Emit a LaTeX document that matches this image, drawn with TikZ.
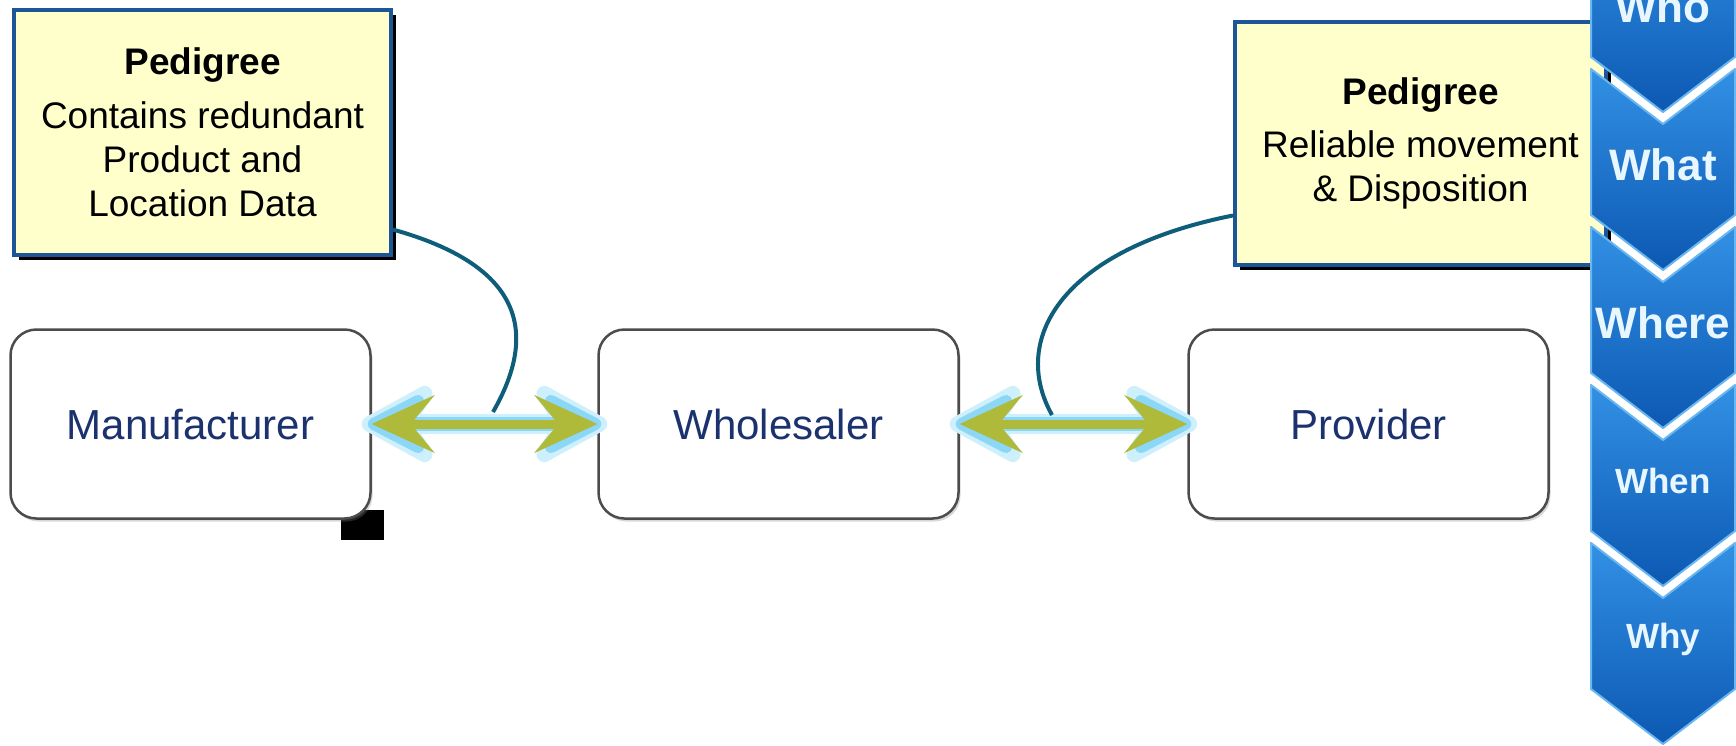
\documentclass[tikz,border=0pt]{standalone}
\usepackage{fontspec}
\setmainfont{Liberation Sans}
\usetikzlibrary{arrows.meta}
\usetikzlibrary{shadows}
\usetikzlibrary{positioning}
\definecolor{notefill}{RGB}{255,255,204}
\definecolor{noteline}{RGB}{28,86,150}
\definecolor{boxtext}{RGB}{27,50,110}
\definecolor{linkteal}{RGB}{14,94,122}
\definecolor{arrowgreen}{RGB}{176,186,58}
\definecolor{glowout}{RGB}{206,240,252}
\definecolor{glowin}{RGB}{140,215,246}
\definecolor{chevtop}{RGB}{50,145,228}
\definecolor{chevbot}{RGB}{12,88,178}
\definecolor{chevedge}{RGB}{105,182,240}
\definecolor{chevtext}{RGB}{232,246,255}

\begin{document}
\begin{tikzpicture}[x=1pt,y=-1pt,
    proc node/.style={draw=black!70,line width=2.5pt,fill=white,rounded corners=26pt,minimum width=360pt,minimum height=189pt,font=\fontsize{42}{50}\selectfont,text=boxtext,drop shadow={shadow xshift=2pt,shadow yshift=-3pt,opacity=.3}},
    note node/.style={draw=noteline,line width=4pt,fill=notefill,align=center,font=\fontsize{37}{44}\selectfont,drop shadow={shadow xshift=5pt,shadow yshift=-5pt,fill=black,opacity=1}},
    glow big/.style={draw=glowout,line width=20pt,shorten <=-10pt,shorten >=-10pt,{Stealth[length=92pt,width=100pt,inset=30pt,round,fill=glowout]}-{Stealth[length=92pt,width=100pt,inset=30pt,round,fill=glowout]}},
    glow small/.style={draw=glowin,line width=14pt,shorten <=-4pt,shorten >=-4pt,{Stealth[length=76pt,width=78pt,inset=27pt,round,fill=glowin]}-{Stealth[length=76pt,width=78pt,inset=27pt,round,fill=glowin]}},
    dbl arrow/.style={draw=arrowgreen,line width=9pt,{Stealth[length=63pt,width=58pt,inset=24pt,line width=0.5pt,fill=arrowgreen]}-{Stealth[length=63pt,width=58pt,inset=24pt,line width=0.5pt,fill=arrowgreen]}},
    link/.style={draw=linkteal,line width=4pt},
    chev/.style={top color=chevtop,bottom color=chevbot,draw=chevedge,line width=2pt,line join=round},
    chev label/.style={text=chevtext,inner sep=0pt}]

   \fill[white] (0,0) rectangle (1736,745);
   \useasboundingbox (0,0) rectangle (1736,745);

   % stray black patch under the first box
   \fill[black] (341,510) rectangle (384,540);

   \node[proc node] (mfr) at (190.5,424) {Manufacturer};
   \node[proc node] (whs) at (778.5,424) {Wholesaler};
   \node[proc node] (prov) at (1368.5,424) {Provider};

   \begin{scope}[y=1pt]
   \foreach \a/\b in {mfr/whs,whs/prov}{
      \draw[glow big] (\a.east) -- (\b.west);
      \draw[glow small] (\a.east) -- (\b.west);
      \draw[dbl arrow] (\a.east) -- (\b.west);
   }
   \end{scope}

   \node[note node,minimum width=377pt,minimum height=245pt] (lnote) at (202.5,132.5)
      {\textbf{Pedigree}\\[10pt]Contains redundant\\Product and\\Location Data};
   \node[note node,minimum width=371pt,minimum height=243pt] (rnote) at (1420.5,143.5)
      {\textbf{Pedigree}\\[9pt]Reliable movement\\\& Disposition};

   \coordinate (ltap) at (493,412);
   \coordinate (rtap) at (1052,415);
   \draw[link] (lnote.-27) .. controls (520,265) and (540,330) .. (ltap);
   \draw[link] (rnote.201) .. controls (1060,250) and (1010,340) .. (rtap);

   % the who / what / where / when / why column
   \foreach \lbl/\fs [count=\i from 0] in {Who/44,What/44,Where/44,When/35,Why/35}{
      \pgfmathsetmacro{\tip}{112+158*\i}
      \draw[chev] (1591,\tip-201) -- (1663,\tip-146) -- (1735,\tip-201) -- (1735,\tip-55) -- (1663,\tip) -- (1591,\tip-55) -- cycle;
      \node[chev label,font=\bfseries\fontsize{\fs}{\fs}\selectfont] (q\i) at (1663,\tip-105) {\lbl};
   }
\end{tikzpicture}
\end{document}
